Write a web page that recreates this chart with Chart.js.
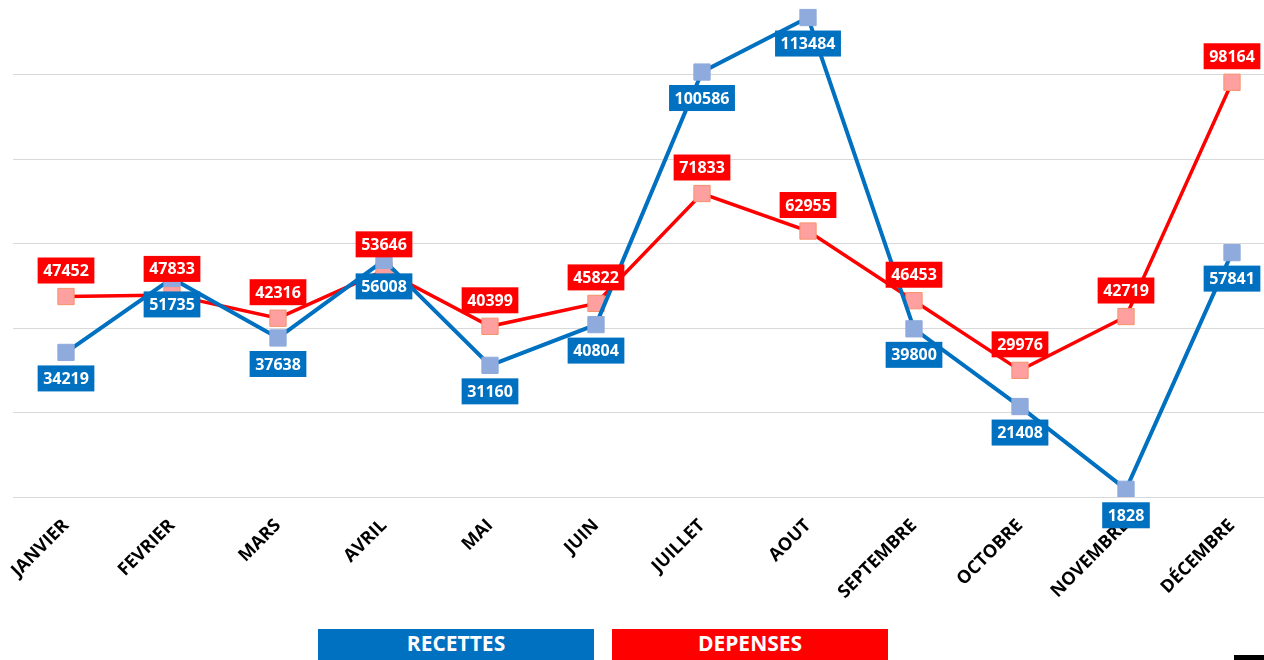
<!DOCTYPE html>
<html>
<head>
<meta charset="utf-8">
<script src="https://cdn.jsdelivr.net/npm/chart.js@4"></script>
<style>
html, body { margin: 0; padding: 0; background: #fff; overflow: hidden; width: 1264px; height: 660px; }
#wrap { position: absolute; left: 0; top: -10px; width: 1285px; height: 622px; }
.leg { position: absolute; top: 629px; width: 276px; height: 31px; line-height: 32px; color: #fff;
       font: bold 21px 'Open Sans', sans-serif; text-align: center; }
#barre { position: absolute; left: 1234px; top: 655px; width: 30px; height: 5px; background: #000; }
</style>
</head>
<body>
<div id="wrap"><canvas id="graph" width="1285" height="622"></canvas></div>
<div class="leg" style="left:318px;background:#0070c0">RECETTES</div>
<div class="leg" style="left:612px;background:#ff0000">DEPENSES</div>
<div id="barre"></div>
<script>
var mois = ["JANVIER", "FEVRIER", "MARS", "AVRIL", "MAI", "JUIN", "JUILLET", "AOUT", "SEPTEMBRE", "OCTOBRE", "NOVEMBRE", "DÉCEMBRE"];
var recettes = [34219, 51735, 37638, 56008, 31160, 40804, 100586, 113484, 39800, 21408, 1828, 57841];
var depenses = [47452, 47833, 42316, 53646, 40399, 45822, 71833, 62955, 46453, 29976, 42719, 98164];

// etiquettes des valeurs: bleu en dessous, rouge au dessus
var etiquettes = {
    id: 'etiquettes',
    afterDatasetsDraw(chart) {
        var ctx = chart.ctx;
        ctx.save();
        ctx.font = 'bold 16px "Open Sans"';
        ctx.textAlign = 'center';
        ctx.textBaseline = 'middle';
        chart.data.datasets.forEach((ds, i) => {
            var meta = chart.getDatasetMeta(i);
            meta.data.forEach((pt, j) => {
                var txt = String(ds.data[j]);
                var w = ctx.measureText(txt).width + 11;
                var h = 26;
                var y = ds.dessous ? pt.y + 13 : pt.y - 13 - h;
                ctx.fillStyle = ds.borderColor;
                ctx.fillRect(pt.x - w / 2, y, w, h);
                ctx.fillStyle = '#fff';
                ctx.fillText(txt, pt.x, y + h / 2 + 1);
            });
        });
        ctx.restore();
    }
};

var ctx = document.querySelector('#graph').getContext('2d');
var myChart = new Chart(ctx, {
    type: 'line',
    data: {
        labels: mois,
        datasets: [
            {
                label: "RECETTES",
                data: recettes,
                borderColor: '#0070c0',
                borderWidth: 4,
                pointStyle: 'rect',
                pointRadius: 11.5,
                pointBackgroundColor: '#8faadc',
                pointBorderColor: '#8faadc',
                pointBorderWidth: 1,
                dessous: true
            },
            {
                label: "DEPENSES",
                data: depenses,
                borderColor: '#ff0000',
                borderWidth: 3.5,
                pointStyle: 'rect',
                pointRadius: 11.5,
                pointBackgroundColor: '#ffa0a0',
                pointBorderColor: '#f5916a',
                pointBorderWidth: 1,
                dessous: false
            }
        ]
    },
    options: {
        responsive: false,
        animation: false,
        events: [],
        layout: { padding: 0, autoPadding: false },
        plugins: {
            legend: { display: false },
            tooltip: { enabled: false }
        },
        scales: {
            x: {
                offset: true,
                grid: { display: false },
                border: { display: false },
                ticks: {
                    autoSkip: false,
                    minRotation: 45,
                    maxRotation: 45,
                    color: '#000',
                    padding: 10,
                    font: { family: 'Open Sans', size: 18, weight: 'bold' }
                },
                afterFit: s => { s.height = 115; }
            },
            y: {
                min: 0,
                max: 120000,
                ticks: { display: false, stepSize: 20000 },
                grid: { color: '#d9d9d9', lineWidth: 1, drawTicks: false },
                border: { display: false },
                afterFit: s => { s.width = 13; }
            }
        }
    },
    plugins: [etiquettes]
});
</script>
</body>
</html>
